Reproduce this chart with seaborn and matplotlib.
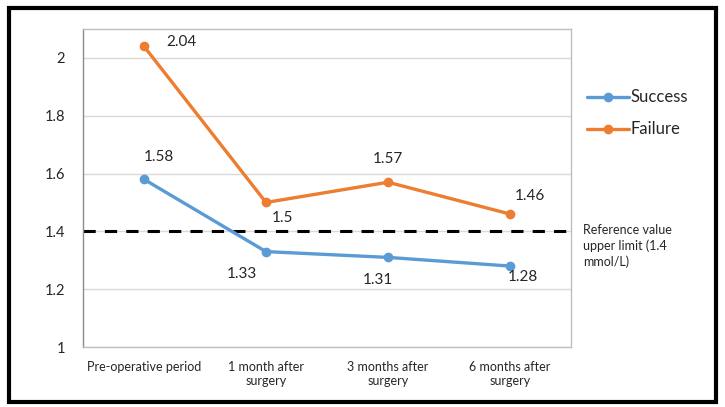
import numpy as np
import pandas as pd
import matplotlib
matplotlib.use('Agg')
import matplotlib.pyplot as plt
import seaborn as sns
from matplotlib.patches import Rectangle

# 데이터
periods = ['Pre-operative period', '1 month after\nsurgery', '3 months after\nsurgery', '6 months after\nsurgery']
success = [1.58, 1.33, 1.31, 1.28]
failure = [2.04, 1.50, 1.57, 1.46]
ref_limit = 1.4

df = pd.DataFrame({
    'period': periods * 2,
    'value': success + failure,
    'group': ['Success'] * 4 + ['Failure'] * 4,
})

sns.set_style('white')
plt.rcParams['font.family'] = ['Lato', 'DejaVu Sans']

fig = plt.figure(figsize=(7.25, 4.07), dpi=100)
ax = fig.add_axes([0.1145, 0.1474, 0.6731, 0.7813])

palette = {'Success': '#5B9BD5', 'Failure': '#ED7D31'}
sns.lineplot(data=df, x='period', y='value', hue='group', palette=palette,
             marker='o', markersize=7, markeredgewidth=0, linewidth=2.4,
             sort=False, ax=ax, legend=False)

ax.axhline(ref_limit, color='black', linestyle=(0, (4, 3)), linewidth=2.2, zorder=1)

ax.set_xlim(-0.5, 3.5)
ax.set_ylim(1, 2.1)
ax.set_yticks([1, 1.2, 1.4, 1.6, 1.8, 2])
ax.set_yticklabels(['1', '1.2', '1.4', '1.6', '1.8', '2'], fontsize=10.5)
ax.set_xticks(range(len(periods)))
ax.set_xticklabels(periods, fontsize=9)
ax.tick_params(axis='y', length=0, pad=13)
ax.tick_params(axis='x', length=0, pad=10)
ax.set_xlabel('')
ax.set_ylabel('')
ax.yaxis.grid(True, color='#d9d9d9', linewidth=1)
ax.set_axisbelow(True)
for s in ax.spines.values():
    s.set_color('#bfbfbf')
    s.set_linewidth(1)
ax.spines['left'].set_color('#8c8c8c')

# 데이터 라벨 (offset, pt)
s_off = [(11, 16), (-17, -16), (-7, -16), (9, -8)]
f_off = [(27, 3), (12, -11), (0, 17), (14, 13)]
for i, v in enumerate(success):
    ax.annotate(f'{v:g}', (i, v), xytext=s_off[i], textcoords='offset points',
                ha='center', va='center', fontsize=11)
for i, v in enumerate(failure):
    ax.annotate(f'{v:g}', (i, v), xytext=f_off[i], textcoords='offset points',
                ha='center', va='center', fontsize=11)

# 범례
for name, y in [('Success', 0.762), ('Failure', 0.683)]:
    fig.add_artist(plt.Line2D([0.809, 0.867], [y, y], color=palette[name], linewidth=2.4,
                              transform=fig.transFigure))
    fig.add_artist(plt.Line2D([0.838], [y], color=palette[name], marker='o', markersize=7,
                              markeredgewidth=0, transform=fig.transFigure))
    fig.text(0.870, y, name, fontsize=12, va='center', ha='left')

fig.text(0.804, 0.396, 'Reference value\nupper limit (1.4\nmmol/L)', fontsize=9,
         va='center', ha='left', linespacing=1.3)

# 바깥 테두리
fig.add_artist(Rectangle((0.0124, 0.0123), 0.975, 0.968, transform=fig.transFigure,
                         fill=False, edgecolor='black', linewidth=3))

fig.savefig('out.png', dpi=100)
